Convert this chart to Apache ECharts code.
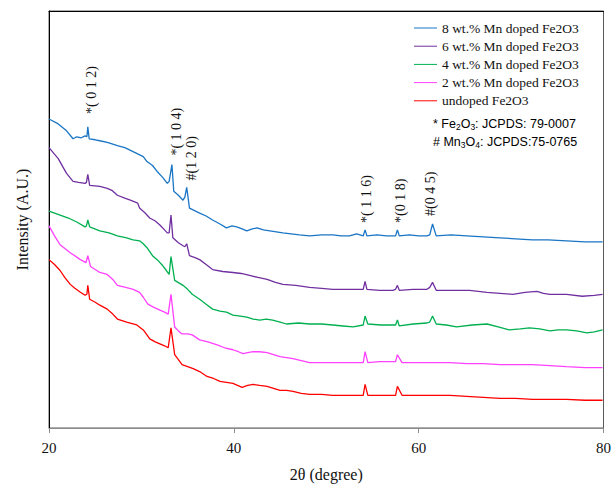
<!DOCTYPE html>
<html><head><meta charset="utf-8">
<script src="https://cdn.jsdelivr.net/npm/echarts@6/dist/echarts.min.js"></script>
<style>html,body{margin:0;padding:0;background:#fff}#c{width:614px;height:487px}</style>
</head><body><div id="c"></div>
<script>
const seriesNames = ['8 wt.% Mn doped Fe2O3','6 wt.% Mn doped Fe2O3','4 wt.% Mn doped Fe2O3','2 wt.% Mn doped Fe2O3','undoped Fe2O3'];
const seriesColors = ['#1a75c5','#7030a0','#00b050','#ff40ff','#ff0000'];
const xTicks = [20,40,60,80];

const mn8 = [[20.0,312],[21.0,307],[21.9,300],[22.6,292],[23.0,294],[23.5,293],[23.9,295],[24.1,294],[24.2,304],[24.35,292],[25.0,291],[25.5,290],[26.4,288],[27.4,285],[28.2,283],[29.1,279],[30.2,274],[30.6,269],[31.2,265],[31.7,259],[32.3,253],[32.8,247],[33.0,249],[33.3,266],[33.5,239],[34.0,235],[34.5,230],[34.7,233],[34.9,243],[35.2,222],[36.3,217],[37.0,214],[37.7,210],[38.5,206],[39.2,202],[39.8,204],[40.3,203],[40.9,201],[41.4,199],[42.0,201],[42.5,202],[43.2,200],[43.9,199],[44.6,198],[45.3,197],[46.2,196],[47.1,195],[48.2,194],[49.5,195],[50.7,195],[51.6,194],[52.5,194],[53.3,196],[54.0,194],[54.2,200],[54.4,194],[55.5,195],[56.5,194],[57.5,194],[57.7,200],[57.9,194],[59.0,195],[60.0,194],[60.9,194],[61.2,195],[61.5,206],[61.9,194],[63.5,195],[65.2,194],[67.0,193],[68.8,192],[70.5,191],[72.3,190],[74.0,190],[76.0,189],[78.0,188],[79.9,188]];
const mn6 = [[20.0,283],[21.0,272],[21.9,257],[22.6,249],[23.2,248],[23.9,247],[24.05,248],[24.2,256],[24.4,245],[25.5,244],[26.3,242],[26.8,240],[27.4,235],[28.2,232],[28.8,230],[29.6,227],[29.8,222],[30.4,217],[30.9,212],[31.5,209],[32.0,205],[32.5,200],[32.8,197],[33.0,197],[33.2,215],[33.4,192],[34.0,187],[34.5,184],[34.7,183],[34.9,186],[35.2,174],[35.8,172],[36.3,170],[37.0,165],[37.7,160],[38.8,158],[39.9,157],[40.8,156],[41.7,154],[42.6,152],[43.6,150],[44.5,147],[45.3,145],[46.7,144],[48.2,142],[49.5,141],[50.7,140],[52.2,140],[53.6,140],[54.0,140],[54.2,148],[54.4,140],[55.8,139],[57.2,139],[57.5,140],[57.7,144],[57.9,139],[59.4,140],[60.9,140],[61.2,142],[61.5,147],[61.9,139],[63.7,139],[65.5,139],[67.4,137],[68.8,136],[70.2,135],[71.5,137],[72.8,138],[73.5,136],[74.2,135],[76.0,135],[77.7,133],[79.0,134],[79.9,135]];
const mn4 = [[20.0,219],[21.2,215],[22.1,212],[23.0,208],[23.9,203],[24.05,204],[24.2,210],[24.4,203],[25.5,199],[26.5,197],[27.4,194],[28.4,192],[29.1,190],[29.8,189],[30.2,186],[30.6,182],[31.2,174],[31.8,169],[32.3,164],[32.7,159],[33.0,155],[33.2,173],[33.6,149],[34.5,144],[35.0,140],[35.5,135],[36.3,130],[37.0,125],[37.7,120],[38.5,118],[39.2,117],[39.9,114],[40.7,113],[41.4,112],[42.1,110],[42.8,109],[43.5,110],[44.2,109],[45.0,107],[45.7,105],[47.0,106],[48.2,105],[49.5,105],[50.7,104],[51.8,103],[52.9,102],[54.0,104],[54.2,113],[54.5,105],[55.9,104],[57.2,104],[57.5,104],[57.7,109],[57.9,103],[59.4,105],[60.9,106],[61.2,107],[61.5,113],[61.9,105],[63.0,104],[64.1,102],[65.8,104],[67.4,105],[68.6,102],[69.8,99],[71.0,100],[72.0,101],[73.1,100],[74.2,98],[75.1,99],[76.0,99],[77.1,98],[78.2,96],[79.0,97],[79.9,99]];
const mn2 = [[20.0,204],[20.6,194],[21.2,185],[22.3,177],[23.4,170],[24.0,167],[24.2,174],[24.5,163],[25.0,160],[25.5,157],[26.3,155],[26.9,150],[27.4,144],[28.3,142],[29.1,140],[29.8,137],[30.2,132],[30.7,125],[31.3,122],[32.0,119],[32.5,117],[32.9,115],[33.2,135],[33.6,102],[34.0,98],[34.4,95],[35.0,95],[35.5,94],[36.3,89],[37.2,87],[38.2,84],[39.0,81],[39.9,79],[40.5,77],[41.0,75],[41.5,76],[42.1,77],[42.8,77],[43.6,76],[44.3,74],[45.0,72],[45.7,71],[46.4,70],[47.3,68],[48.2,66],[49.5,66],[50.7,66],[52.2,66],[53.6,66],[54.0,66],[54.2,77],[54.5,66],[55.8,67],[56.9,67],[57.5,67],[57.7,74],[58.2,66],[59.8,66],[61.5,66],[63.4,66],[65.2,65],[67.0,65],[68.8,64],[70.5,64],[72.3,64],[74.2,63],[76.0,62],[78.0,61],[79.9,61]];
const undoped = [[20.0,170],[20.6,165],[21.2,159],[21.7,152],[22.3,145],[22.8,141],[23.4,137],[23.9,134],[24.1,135],[24.2,144],[24.4,130],[25.0,127],[25.5,124],[26.3,120],[26.9,115],[27.4,110],[28.4,107],[29.5,104],[30.2,99],[30.6,94],[30.9,90],[31.5,87],[32.0,85],[32.5,83],[32.9,81],[33.2,101],[33.6,74],[34.0,69],[34.4,64],[35.0,62],[35.6,60],[36.3,57],[37.1,52],[37.8,50],[38.5,47],[39.2,46],[39.9,45],[40.4,43],[40.9,41],[41.5,43],[42.1,44],[42.8,43],[43.6,42],[44.3,40],[45.0,38],[45.7,38],[46.4,37],[47.3,35],[48.2,34],[49.5,34],[50.7,33],[52.2,33],[53.6,33],[54.0,33],[54.2,44],[54.5,33],[55.8,33],[57.2,33],[57.5,33],[57.7,42],[58.2,33],[59.8,33],[61.5,33],[63.4,33],[65.2,32],[67.0,31],[68.8,30],[70.5,30],[72.3,29],[74.2,29],[76.0,29],[78.0,28],[79.9,28]];
const seriesData = [mn8, mn6, mn4, mn2, undoped];

// peak annotations: [text, 2theta, intensity at label start]
const peakLabels = [
  ['*( 0 1 2)', 24.65, 317],
  ['*( 1 0 4)', 33.75, 275],
  ['#(1 2 0)', 35.45, 250],
  ['*( 1 1 6)', 54.4, 207],
  ['*(0 1 8)', 58.05, 207],
  ['#(0 4 5)', 61.3, 214]
];

const serif = "'Liberation Serif', 'Times New Roman', 'DejaVu Serif', serif";
const sans = "'Liberation Sans', Arial, sans-serif";
const chart = echarts.init(document.getElementById('c'), null, {renderer: 'svg'});
const option = {
  animation: false,
  backgroundColor: '#fff',
  grid: {left: 49, right: 10, top: 11, bottom: 55, show: true, borderColor: '#5a5a5a', borderWidth: 1},
  legend: {
    orient: 'vertical', left: 409, top: 16, itemWidth: 23, itemHeight: 14, itemGap: 4.2,
    icon: 'path://M0,6.5 L23,6.5 L23,7.5 L0,7.5 Z',
    data: seriesNames,
    textStyle: {fontFamily: serif, fontSize: 13.5, color: '#111'}
  },
  xAxis: [{
    type: 'value', min: 20, max: 80, interval: 20,
    axisLine: {show: true, lineStyle: {color: '#8c8c8c', width: 1}},
    axisTick: {show: true, length: 5, lineStyle: {color: '#8c8c8c'}},
    axisLabel: {fontFamily: serif, fontSize: 15, color: '#111', margin: 12},
    splitLine: {show: false},
    name: '2θ (degree)', nameLocation: 'middle', nameGap: 38,
    nameTextStyle: {fontFamily: serif, fontSize: 16, color: '#111'}
  }, {
    type: 'value', position: 'top', min: 20, max: 80,
    axisLine: {show: true, lineStyle: {color: '#000', width: 1}},
    axisTick: {show: false}, axisLabel: {show: false}, splitLine: {show: false}
  }],
  yAxis: {
    type: 'value', min: 0, max: 421,
    axisLine: {show: true, lineStyle: {color: '#000', width: 1}},
    axisTick: {show: false}, axisLabel: {show: false}, splitLine: {show: false},
    name: 'Intensity (A.U.)', nameLocation: 'middle', nameGap: 19,
    nameTextStyle: {fontFamily: serif, fontSize: 16, color: '#111'}
  },
  series: seriesNames.map((n, i) => ({
    name: n, type: 'line', data: seriesData[i], xAxisIndex: 0,
    showSymbol: false, symbol: 'none', smooth: false,
    lineStyle: {color: seriesColors[i], width: 1.3},
    itemStyle: {color: seriesColors[i]},
    z: 10 - i
  }))
};
chart.setOption(option);

const graphics = peakLabels.map(p => {
  const pt = chart.convertToPixel({gridIndex: 0}, [p[1], p[2]]);
  return {
    type: 'text', x: pt[0], y: pt[1], rotation: Math.PI / 2,
    style: {text: p[0], fontFamily: serif, fontSize: 14, fill: '#111', textAlign: 'left', textVerticalAlign: 'middle'}
  };
});
graphics.push({
  type: 'text', left: 433, top: 117,
  style: {
    text: '* Fe{s|2}O{s|3}: JCPDS: 79-0007',
    fontFamily: sans, fontSize: 12.5, fill: '#000',
    rich: {s: {fontSize: 8.5, fontFamily: sans, padding: [7, 0, 0, 0]}}
  }
});
graphics.push({
  type: 'text', left: 433, top: 135,
  style: {
    text: '# Mn{s|3}O{s|4}: JCPDS:75-0765',
    fontFamily: sans, fontSize: 12.5, fill: '#000',
    rich: {s: {fontSize: 8.5, fontFamily: sans, padding: [7, 0, 0, 0]}}
  }
});
chart.setOption({graphic: graphics});
</script>
</body></html>
